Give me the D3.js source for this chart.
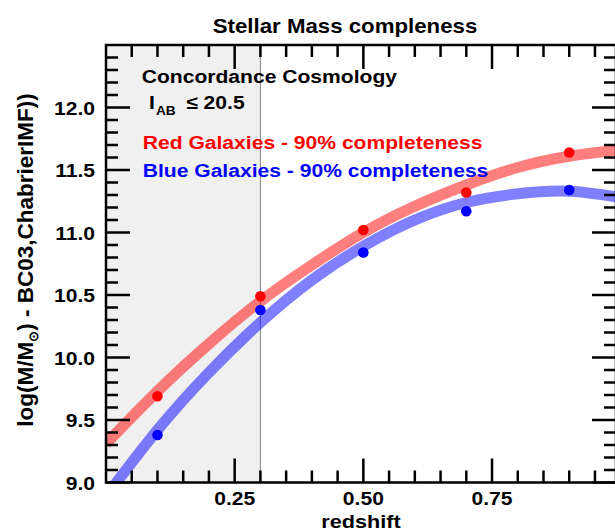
<!DOCTYPE html>
<html>
<head>
<meta charset="utf-8">
<script src="https://cdn.jsdelivr.net/npm/d3@7/dist/d3.min.js"></script>
<style>
  html, body { margin: 0; padding: 0; background: #fff; }
  svg { display: block; }
  text { font-family: "Liberation Sans", Arial, Helvetica, sans-serif; font-weight: bold; }
</style>
</head>
<body>
<svg id="chart" width="615" height="531"></svg>
<script>
// ---- data ----
const redshift   = [0.1, 0.3, 0.5, 0.7, 0.9];
const redMass    = [9.69, 10.49, 11.02, 11.32, 11.64];
const blueMass   = [9.38, 10.38, 10.84, 11.17, 11.34];

const fitZ       = [0.0, 0.1, 0.2, 0.3, 0.4, 0.5, 0.6, 0.7, 0.8, 0.9, 1.0];
const redFit     = [9.31, 9.73, 10.11, 10.45, 10.74, 11.00, 11.21, 11.38, 11.52, 11.61, 11.66];
const blueFit    = [8.89, 9.42, 9.88, 10.28, 10.62, 10.89, 11.10, 11.24, 11.31, 11.33, 11.28];

const xMajorTicks = [0.25, 0.50, 0.75];
const xMajorLabels = ["0.25", "0.50", "0.75"];
const yMajorTicks = [9.0, 9.5, 10.0, 10.5, 11.0, 11.5, 12.0];
const yMajorLabels = ["9.0", "9.5", "10.0", "10.5", "11.0", "11.5", "12.0"];
const shadeLimit = 0.3;

// ---- layout ----
const svg = d3.select("#chart");
const L = 106, R = 616, T = 45, B = 482.5;
const x = d3.scaleLinear().domain([0, (R - L) / 514.7]).range([L, R]);
const y = d3.scaleLinear().domain([9.0, 12.5]).range([B, T]);
const SX = 1.14;

function stext(sel, tx, ty, str, opt) {
  opt = opt || {};
  const t = sel.append("text")
    .attr("transform", `translate(${tx},${ty})${opt.rot ? " rotate(" + opt.rot + ")" : ""} scale(${opt.sx || SX},1)`)
    .attr("text-anchor", opt.anchor || "start")
    .attr("font-size", opt.size || 18.5)
    .attr("fill", opt.fill || "#000");
  if (str !== null) t.text(str);
  return t;
}

// shaded region
svg.append("rect")
  .attr("x", x(0)).attr("y", T)
  .attr("width", x(shadeLimit) - x(0)).attr("height", B - T)
  .attr("fill", "#f0f0f0");
svg.append("line")
  .attr("x1", x(shadeLimit)).attr("x2", x(shadeLimit))
  .attr("y1", T).attr("y2", B)
  .attr("stroke", "#888").attr("stroke-width", 1);

// clip
svg.append("clipPath").attr("id", "plotclip")
  .append("rect").attr("x", L).attr("y", T).attr("width", R - L).attr("height", B - T);
const plot = svg.append("g").attr("clip-path", "url(#plotclip)");

const line = d3.line().x((d, i) => x(fitZ[i])).y(d => y(d)).curve(d3.curveNatural);
plot.append("path").datum(redFit).attr("d", line)
  .attr("fill", "none").attr("stroke", "#ff0000").attr("stroke-opacity", 0.5).attr("stroke-width", 11);
plot.append("path").datum(blueFit).attr("d", line)
  .attr("fill", "none").attr("stroke", "#0000ff").attr("stroke-opacity", 0.5).attr("stroke-width", 11);

plot.selectAll("circle.red").data(redMass).enter().append("circle")
  .attr("class", "red").attr("cx", (d, i) => x(redshift[i])).attr("cy", d => y(d))
  .attr("r", 5.3).attr("fill", "#ff0000");
plot.selectAll("circle.blue").data(blueMass).enter().append("circle")
  .attr("class", "blue").attr("cx", (d, i) => x(redshift[i])).attr("cy", d => y(d))
  .attr("r", 5.3).attr("fill", "#0000ff");

// ticks
const tk = svg.append("g").attr("stroke", "#000").attr("stroke-width", 2.5);
const xMinor = d3.range(0.05, 0.99, 0.05).filter(v => !xMajorTicks.some(m => Math.abs(m - v) < 1e-6));
const yMinor = d3.range(9.1, 12.5, 0.1).filter(v => !yMajorTicks.some(m => Math.abs(m - v) < 1e-6));
const MAJ = 24, MIN = 12;
xMinor.concat(xMajorTicks).forEach(v => {
  const len = xMajorTicks.some(m => Math.abs(m - v) < 1e-6) ? MAJ : MIN;
  tk.append("line").attr("x1", x(v)).attr("x2", x(v)).attr("y1", B).attr("y2", B - len);
  tk.append("line").attr("x1", x(v)).attr("x2", x(v)).attr("y1", T).attr("y2", T + len);
});
yMinor.concat(yMajorTicks).forEach(v => {
  const len = yMajorTicks.some(m => Math.abs(m - v) < 1e-6) ? MAJ : MIN;
  tk.append("line").attr("y1", y(v)).attr("y2", y(v)).attr("x1", L).attr("x2", L + len);
  tk.append("line").attr("y1", y(v)).attr("y2", y(v)).attr("x1", R).attr("x2", R - len);
});

// frame
svg.append("rect").attr("x", L).attr("y", T).attr("width", R - L).attr("height", B - T)
  .attr("fill", "none").attr("stroke", "#000").attr("stroke-width", 2.5);

// tick labels
xMajorTicks.forEach((v, i) => stext(svg, x(v), 505, xMajorLabels[i], { anchor: "middle" }));
yMajorTicks.forEach((v, i) => stext(svg, 95, y(v) + 7, yMajorLabels[i], { anchor: "end" }));

// axis titles
stext(svg, 361, 528, "redshift", { anchor: "middle", size: 19 });
const yl = stext(svg, 33, 260, null, { anchor: "middle", size: 22.5, rot: -90, sx: 1 });
yl.append("tspan").text("log(M/M");
yl.append("tspan").attr("font-size", 13).attr("dy", 5).text("\u2299");
yl.append("tspan").attr("dy", -5).text(") - BC03,ChabrierIMF))");

// title
stext(svg, 345, 32.5, "Stellar Mass compleness", { anchor: "middle", size: 20.8, sx: 1.07 });

// annotations
stext(svg, 141.7, 83, "Concordance Cosmology");
const ia = stext(svg, 149, 108.7, null);
ia.append("tspan").text("I");
ia.append("tspan").attr("font-size", 12).attr("dy", 6).attr("dx", 1).text("AB");
ia.append("tspan").attr("dy", -6).attr("dx", 4).text(" \u2264 20.5");
stext(svg, 142.7, 149.3, "Red Galaxies - 90% completeness", { fill: "#ff0000" });
stext(svg, 142.7, 176.7, "Blue Galaxies - 90% completeness", { fill: "#0000ff" });
</script>
</body>
</html>
